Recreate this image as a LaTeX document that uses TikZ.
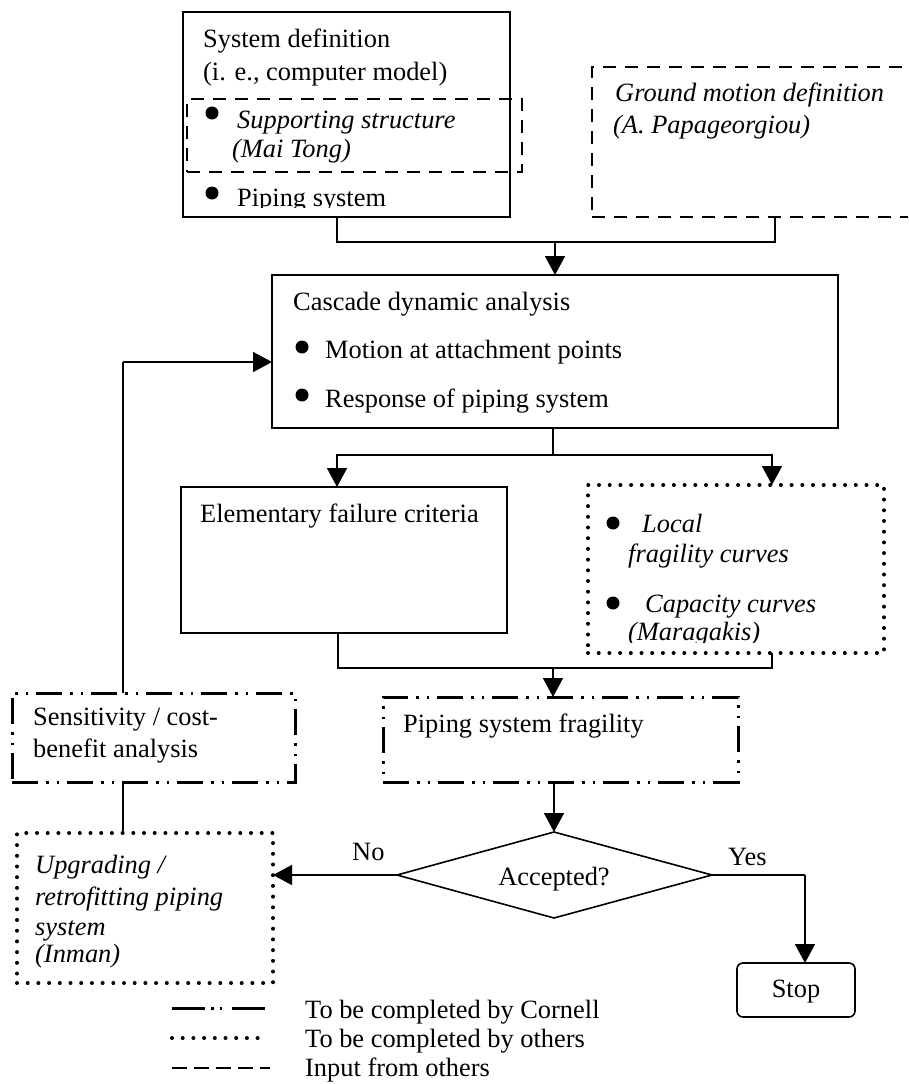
\documentclass[tikz,border=0pt]{standalone}
\usepackage{fontspec}
\setmainfont{Liberation Serif}
\usetikzlibrary{arrows.meta}
\begin{document}
\begin{tikzpicture}[x=1pt,y=-1pt,
  txt/.style={anchor=base west, inner sep=0pt, font=\fontsize{26.4}{30}\selectfont},
  itxt/.style={txt, font=\fontsize{26.4}{30}\selectfont\itshape},
  blk/.style={anchor=north west, inner sep=0pt, outer sep=0pt},
  solidbox/.style={blk, draw, line width=1.6pt},
  inputline/.style={line width=2.6pt, dash pattern=on 13pt off 9pt},
  othersline/.style={line width=4pt, line cap=round, dash pattern=on 0pt off 10.7pt},
  cornellline/.style={line width=3pt, dash pattern=on 26pt off 8pt on 2.5pt off 8pt on 2.5pt off 8pt},
  inputbox/.style={blk, draw, inputline},
  othersbox/.style={blk, draw, othersline},
  cornellbox/.style={blk, draw, cornellline},
  bul/.style={circle, fill, inner sep=0pt, minimum size=13pt},
  wire/.style={line width=1.6pt},
  arr/.style={wire, -{Triangle[width=20pt,length=19pt]}},
]
\useasboundingbox (0,0) rectangle (908,1084);
\clip (0,0) rectangle (908,1084);

% ---- system definition ----
\node[solidbox, minimum width=327pt, minimum height=205pt] (sys) at (183,12) {};
\node[txt] (sysA) at (203,47) {System definition};
\node[txt] (sysB) at (203,80) {(i. e., computer model)};
\node[inputbox, minimum width=335pt, minimum height=73pt] (supp) at (187,99) {};
\node[bul] (bS1) at (212,113) {};
\node[itxt] (suppA) at (237,128) {Supporting structure};
\node[itxt] (suppB) at (232,157) {(Mai Tong)};
\node[bul] (bS2) at (212,193) {};
\begin{scope}
  \clip (183,175) rectangle (510,207);
  \node[txt] (pipe) at (237,206) {Piping system};
\end{scope}

% ---- ground motion ----
\node[inputbox, minimum width=366pt, minimum height=150pt] (gm) at (592,67) {};
\node[itxt] (gmA) at (615,101) {Ground motion definition};
\node[itxt] (gmB) at (613,133) {(A. Papageorgiou)};

% ---- cascade analysis ----
\node[solidbox, minimum width=566pt, minimum height=153pt] (cas) at (272,275) {};
\node[txt] (casA) at (293,310) {Cascade dynamic analysis};
\node[bul] (bC1) at (302,347) {};
\node[txt] (casB) at (325,358) {Motion at attachment points};
\node[bul] (bC2) at (302,395) {};
\node[txt] (casC) at (325,407) {Response of piping system};

% ---- failure criteria / local fragility ----
\node[solidbox, minimum width=326pt, minimum height=146pt] (elem) at (181,487) {};
\node[txt] (elemA) at (200,522) {Elementary failure criteria};
\node[othersbox, minimum width=296pt, minimum height=168pt] (loc) at (588,485) {};
\node[bul] (bL1) at (613,523) {};
\node[itxt] (locA) at (642,532) {Local};
\node[itxt] (locB) at (628,562) {fragility curves};
\node[bul] (bL2) at (613,603) {};
\node[itxt] (locC) at (645,612) {Capacity curves};
\begin{scope}
  \clip (590,620) rectangle (880,642);
  \node[itxt] (locD) at (628,640) {(Maragakis)};
\end{scope}

% ---- piping system fragility ----
\node[cornellbox, minimum width=355pt, minimum height=85pt] (frag) at (383,697) {};
\node[txt] (fragA) at (403,732) {Piping system fragility};

% ---- sensitivity ----
\node[cornellbox, minimum width=283pt, minimum height=89pt] (sens) at (12,693) {};
\node[txt] (sensA) at (33,725) {Sensitivity / cost-};
\node[txt] (sensB) at (33,757) {benefit analysis};

% ---- upgrading ----
\node[othersbox, minimum width=256pt, minimum height=150pt] (upg) at (17,833) {};
\node[itxt] (upgA) at (35,873) {Upgrading /};
\node[itxt] (upgB) at (35,905) {retrofitting piping};
\node[itxt] (upgC) at (35,935) {system};
\node[itxt] (upgD) at (35,962) {(Inman)};

% ---- decision ----
\coordinate (accN) at (554,832);
\coordinate (accE) at (712,875);
\coordinate (accS) at (554,918);
\coordinate (accW) at (397,875);
\draw[wire] (accN) -- (accE) -- (accS) -- (accW) -- cycle;
\node[txt, anchor=base] (acc) at (554,885) {Accepted?};
\node[txt] (no) at (352,860) {No};
\node[txt] (yes) at (728,865) {Yes};
\node[solidbox, rounded corners=6pt, minimum width=118pt, minimum height=54pt] (stop) at (737,963) {};
\node[txt, anchor=base] (stopA) at (796,997) {Stop};

% ---- connectors ----
\coordinate (ja) at (337,242);
\coordinate (jb) at (775,242);
\draw[wire] (ja |- sys.south) -- (ja) -- (jb) -- (gm.south);
\draw[arr] (cas.north |- ja) -- (cas.north);

\coordinate (sp) at (553,455);
\coordinate (la) at (337,455);
\coordinate (ra) at (772,455);
\draw[wire] (sp |- cas.south) -- (sp);
\draw[arr] (sp) -- (la) -- (la |- elem.north);
\draw[arr] (sp) -- (ra) -- (ra |- loc.north);

\coordinate (mg) at (553,668);
\coordinate (lb) at (338,668);
\coordinate (rb) at (772,668);
\draw[wire] (lb |- elem.south) -- (lb) -- (rb) -- (rb |- loc.south);
\draw[arr] (mg) -- (mg |- frag.north);
\draw[arr] (accN |- frag.south) -- (accN);

\draw[arr] (accW) -- (accW -| upg.east);
\coordinate (yc) at (805,875);
\draw[wire] (accE) -- (yc);
\draw[arr] (yc) -- (yc |- stop.north);

\coordinate (lp) at (123,362);
\draw[wire] (lp |- sens.north) -- (lp);
\draw[arr] (lp) -- (lp -| cas.west);
\draw[wire] (lp |- sens.south) -- (lp |- upg.north);

% ---- legend ----
\coordinate (lg1a) at (172,1008);
\coordinate (lg1b) at (270,1008);
\coordinate (lg2a) at (172,1038);
\coordinate (lg2b) at (262,1038);
\coordinate (lg3a) at (172,1068);
\coordinate (lg3b) at (270,1068);
\draw[line width=3pt, dash pattern=on 33pt off 6pt on 2.5pt off 6pt on 2.5pt off 10pt] (lg1a) -- (lg1b);
\draw[othersline] (lg2a) -- (lg2b);
\draw[line width=2.6pt, dash pattern=on 15pt off 7pt] (lg3a) -- (lg3b);
\node[txt] (lgA) at (305,1018) {To be completed by Cornell};
\node[txt] (lgB) at (305,1047) {To be completed by others};
\node[txt] (lgC) at (305,1076) {Input from others};
\end{tikzpicture}
\end{document}
